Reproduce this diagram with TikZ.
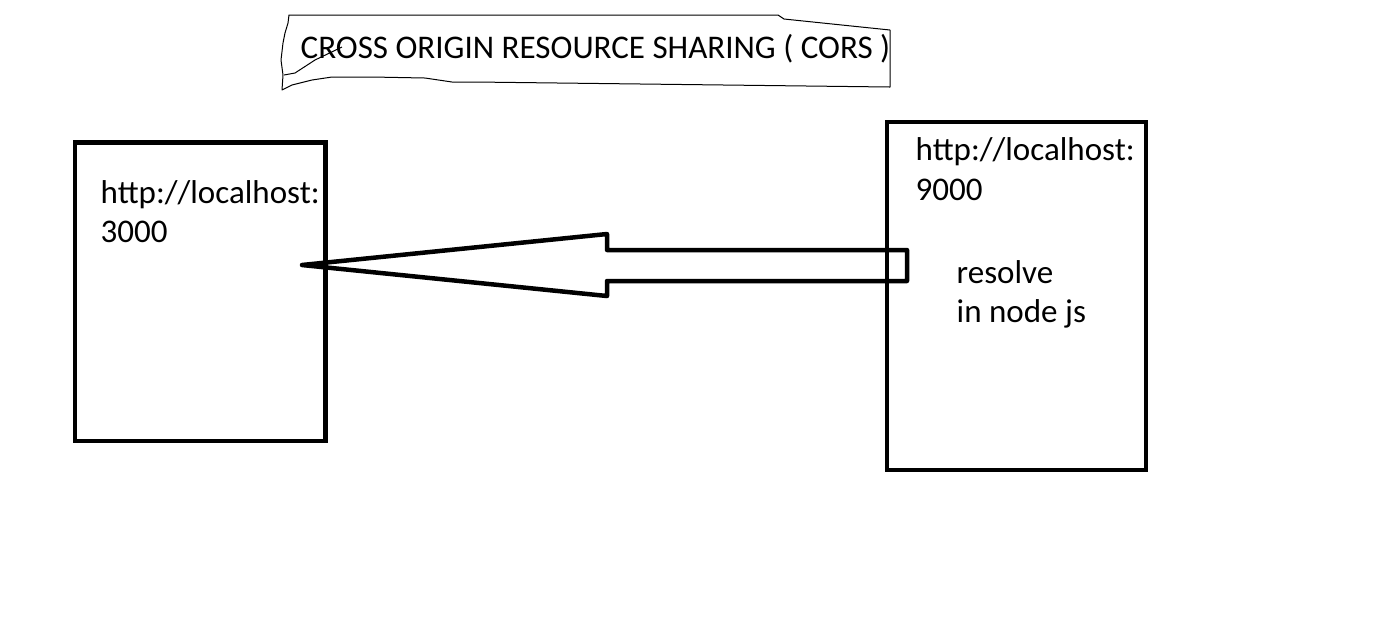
\documentclass[tikz,border=0pt]{standalone}
\usepackage{fontspec}
\setmainfont{Carlito}
\usetikzlibrary{shapes}

\tikzset{
  server/.style={draw, line width=0.045cm, inner sep=0pt, outer sep=0pt, anchor=north west},
  url/.style={anchor=base west, inner sep=0pt, font=\fontsize{9.4}{11}\selectfont}
}

\begin{document}
\begin{tikzpicture}
\useasboundingbox (0, 0) rectangle (13.82, -6.40);
% title, hand drawn outline
\draw (3.00, -0.58) node (title) [url] {CROSS ORIGIN RESOURCE SHARING ( CORS )};
\draw [line width=0.01cm, line join=round] (2.89, -0.15) -- (7.78, -0.15) -- (7.84, -0.19) -- (8.90, -0.30)
      -- (8.90, -0.87) -- (4.75, -0.82) -- (4.52, -0.82) -- (4.25, -0.78) -- (3.72, -0.77) -- (3.32, -0.77)
      -- (3.12, -0.80) -- (2.92, -0.85) -- (2.82, -0.90) -- (2.83, -0.75) -- (2.81, -0.60) -- (2.83, -0.43)
      -- (2.85, -0.33) -- (2.88, -0.23) -- cycle;
\draw [line width=0.01cm, line join=round] (2.84, -0.75) -- (2.95, -0.73) -- (3.15, -0.60) -- (3.42, -0.47);
% the two servers
\draw (0.75, -1.425) node (client) [server, minimum width=2.505cm, minimum height=2.985cm] {};
\draw (8.87, -1.22) node (api) [server, minimum width=2.59cm, minimum height=3.48cm] {};
\draw (1.00, -2.03) node (clienturl) [url] {http://localhost:};
\draw (1.00, -2.42) node (clientport) [url] {3000};
\draw (9.15, -1.60) node (apiurl) [url] {http://localhost:};
\draw (9.15, -2.00) node (apiport) [url] {9000};
\draw (9.56, -2.83) node (fix) [url] {resolve};
\draw (9.56, -3.22) node (fixnode) [url] {in node js};
% big hollow arrow
\draw [line width=0.045cm, line join=round] (3.02, -2.65) -- (6.07, -2.34) -- (6.07, -2.50) -- (9.07, -2.50)
      -- (9.07, -2.81) -- (6.07, -2.81) -- (6.07, -2.96) -- cycle;
\end{tikzpicture}
\end{document}
